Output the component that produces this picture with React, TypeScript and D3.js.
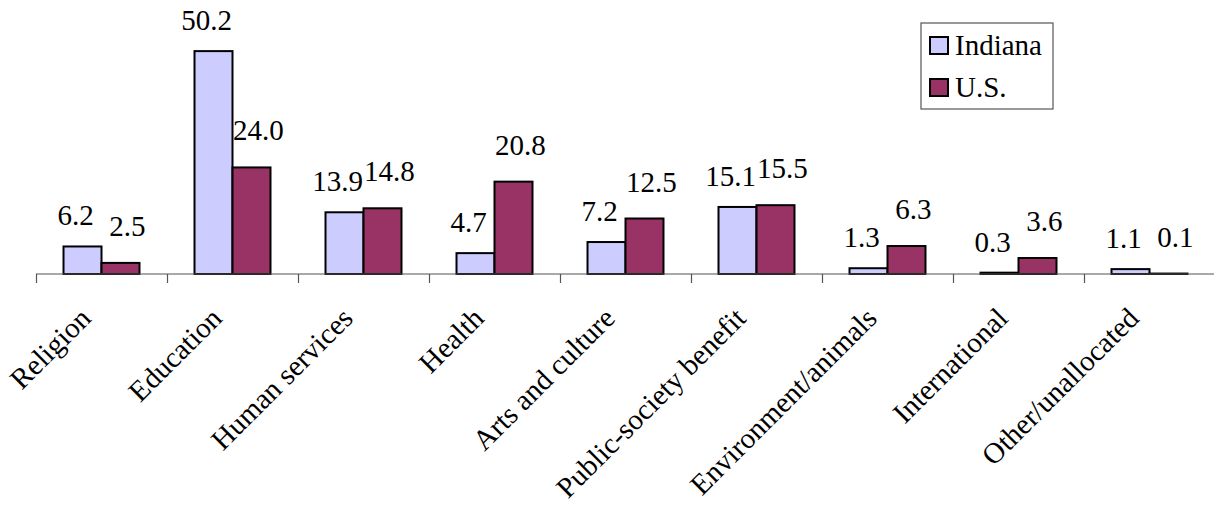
import React from "react";
import * as d3 from "d3";

const categories = [
  "Religion",
  "Education",
  "Human services",
  "Health",
  "Arts and culture",
  "Public-society benefit",
  "Environment/animals",
  "International",
  "Other/unallocated",
];
const seriesNames = ["Indiana", "U.S."];
const indiana = [6.2, 50.2, 13.9, 4.7, 7.2, 15.1, 1.3, 0.3, 1.1];
const us = [2.5, 24.0, 14.8, 20.8, 12.5, 15.5, 6.3, 3.6, 0.1];
const colors = ["#CCCCFF", "#993366"];

const W = 1214;
const H = 506;
const axisY = 274;
const FONT = "Liberation Serif";

export default function App() {
  const x = d3.scaleBand<string>().domain(categories).range([36, 1215]).padding(0);
  const bw = x.bandwidth();
  const inner = d3
    .scaleBand<string>()
    .domain(seriesNames)
    .range([bw * 0.21, bw * 0.79])
    .padding(0);
  const y = d3.scaleLinear().domain([0, 60]).range([axisY, 7.6]);
  const series = [indiana, us];
  const labelDx = [-7, 7];
  const labelGap = [21, 27];
  const ts = { fontFamily: FONT, fontSize: 29 };

  return (
    <svg
      width={W}
      height={H}
      style={{ position: "absolute", left: 0, top: 0, background: "#fff", fontFamily: FONT }}
      fontFamily={FONT}
    >
      {series.map((vals, si) =>
        vals.map((v, i) => {
          const bx = (x(categories[i]) ?? 0) + (inner(seriesNames[si]) ?? 0);
          const by = y(v);
          return (
            <rect
              key={`b-${si}-${i}`}
              x={bx}
              y={by}
              width={inner.bandwidth()}
              height={Math.max(0, axisY - by)}
              fill={colors[si]}
              stroke="#000"
              strokeWidth={2}
            />
          );
        })
      )}
      <line x1={36} x2={1214} y1={axisY} y2={axisY} stroke="#555" strokeWidth={1.2} />
      {d3.range(categories.length + 1).map((k) => {
        const tx = Math.round(36 + k * bw) + 0.5;
        return <line key={`t-${k}`} x1={tx} x2={tx} y1={axisY} y2={axisY + 9} stroke="#555" strokeWidth={1.2} />;
      })}
      {series.map((vals, si) =>
        vals.map((v, i) => {
          const cx =
            (x(categories[i]) ?? 0) + (inner(seriesNames[si]) ?? 0) + inner.bandwidth() / 2 + labelDx[si];
          return (
            <text
              key={`l-${si}-${i}`}
              x={cx}
              y={y(v) - labelGap[si]}
              textAnchor="middle"
              fontFamily={FONT}
              style={ts}
              fill="#000"
            >
              {v.toFixed(1)}
            </text>
          );
        })
      )}
      {categories.map((c) => {
        const cx = (x(c) ?? 0) + bw / 2 - 9;
        return (
          <text
            key={`c-${c}`}
            transform={`translate(${cx},${axisY + 46}) rotate(-45)`}
            textAnchor="end"
            fontFamily={FONT}
            style={ts}
            fill="#000"
          >
            {c}
          </text>
        );
      })}
      <g>
        <rect x={921} y={23} width={132} height={86} fill="#fff" stroke="#555" strokeWidth={1.2} />
        {seriesNames.map((s, si) => (
          <g key={`lg-${s}`}>
            <rect
              x={930}
              y={37 + si * 42}
              width={18}
              height={17}
              fill={colors[si]}
              stroke="#000"
              strokeWidth={2}
            />
            <text x={955} y={55 + si * 42} fontFamily={FONT} style={ts} fill="#000">
              {s}
            </text>
          </g>
        ))}
      </g>
    </svg>
  );
}
